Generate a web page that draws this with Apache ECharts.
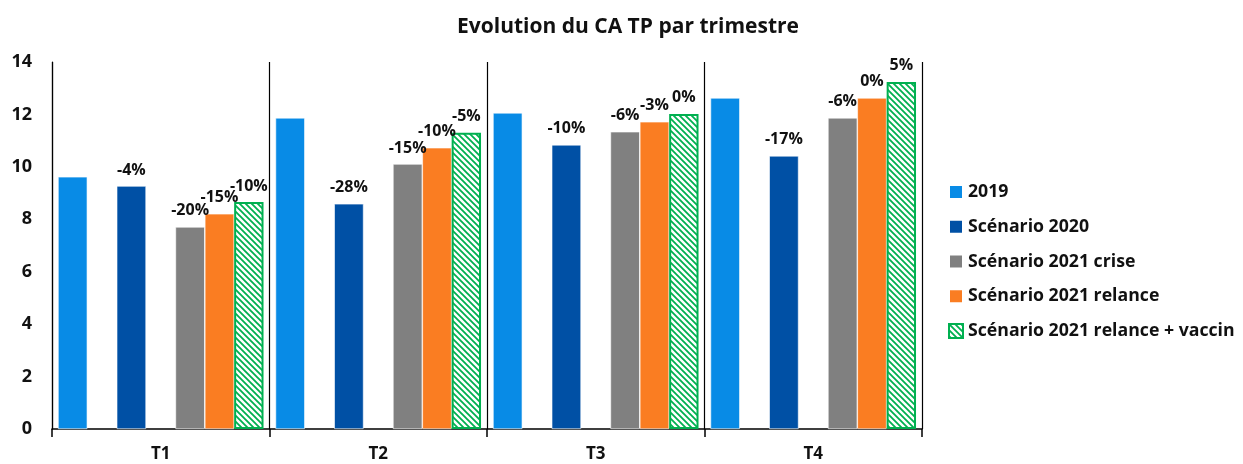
<!DOCTYPE html>
<html>
<head>
<meta charset="utf-8">
<script src="https://cdn.jsdelivr.net/npm/echarts@6/dist/echarts.min.js"></script>
<style>
  html, body { margin: 0; padding: 0; background: #fff; }
  #chart { width: 1243px; height: 464px; }
</style>
</head>
<body>
<div id="chart"></div>
<script>
// data
var trimestres = ['T1', 'T2', 'T3', 'T4'];
var ca2019 = [9.62, 11.87, 12.06, 12.63];
var sc2020 = [9.27, 8.59, 10.84, 10.42];
var sc2021Crise = [7.71, 10.11, 11.34, 11.87];
var sc2021Relance = [8.21, 10.73, 11.72, 12.63];
var sc2021Vaccin = [8.66, 11.30, 12.02, 13.24];
// empty slots kept between bars like in the source chart
var emptySlot = [null, null, null, null];

// labels shown above bars
var lbl2020 = ['-4%', '-28%', '-10%', '-17%'];
var lblCrise = ['-20%', '-15%', '-6%', '-6%'];
var lblRelance = ['-15%', '-10%', '-3%', '0%'];
var lblVaccin = ['-10%', '-5%', '0%', '5%'];

var FONT = 'Open Sans';

// hatch pattern for the vaccin scenario
function hatch() {
    var c = document.createElement('canvas');
    c.width = 6; c.height = 6;
    var ctx = c.getContext('2d');
    ctx.fillStyle = '#fff';
    ctx.fillRect(0, 0, 6, 6);
    ctx.strokeStyle = '#00b050';
    ctx.lineWidth = 1.8;
    ctx.beginPath();
    ctx.moveTo(-1, -1); ctx.lineTo(7, 7);
    ctx.moveTo(-4, 2); ctx.lineTo(4, 10);
    ctx.moveTo(2, -4); ctx.lineTo(10, 4);
    ctx.stroke();
    return c;
}

function labelFrom(arr) {
    return {
        show: true,
        position: 'top',
        distance: 8,
        fontFamily: FONT,
        fontWeight: 'bold',
        fontSize: 16,
        color: '#111',
        formatter: function (p) { return arr[p.dataIndex]; }
    };
}

function bar(name, data, color, lbl) {
    var s = {
        name: name,
        type: 'bar',
        data: data,
        barGap: 0,
        barCategoryGap: '5.5%',
        itemStyle: { color: color, borderColor: '#fff', borderWidth: 0.6 }
    };
    if (lbl) s.label = labelFrom(lbl);
    return s;
}

var vaccinSeries = bar('Scénario 2021 relance + vaccin', sc2021Vaccin, { image: hatch(), repeat: 'repeat' }, lblVaccin);
vaccinSeries.itemStyle.borderColor = '#00b050';
vaccinSeries.itemStyle.borderWidth = 2;

var chart = echarts.init(document.getElementById('chart'));
chart.setOption({
    animation: false,
    title: {
        text: 'Evolution du CA TP par trimestre',
        left: 623,
        textAlign: 'center',
        top: 12,
        textStyle: { fontFamily: FONT, fontWeight: 'bold', fontSize: 21, color: '#111' }
    },
    legend: {
        orient: 'vertical',
        left: 943,
        top: 178,
        itemWidth: 14,
        itemHeight: 14,
        itemGap: 16.75,
        icon: 'rect',
        data: ['2019', 'Scénario 2020', 'Scénario 2021 crise', 'Scénario 2021 relance', 'Scénario 2021 relance + vaccin'],
        textStyle: { fontFamily: FONT, fontWeight: 'bold', fontSize: 17.7, color: '#111', lineHeight: 18 }
    },
    grid: { left: 52, right: 321, top: 62, bottom: 35 },
    xAxis: {
        type: 'category',
        data: trimestres,
        axisLine: { lineStyle: { color: '#000', width: 1.5 } },
        axisTick: { show: true, length: 8, lineStyle: { color: '#000', width: 1.5 } },
        splitLine: { show: true, lineStyle: { color: '#000', width: 1.2 } },
        axisLabel: { fontFamily: FONT, fontWeight: 'bold', fontSize: 17, color: '#111', margin: 17 }
    },
    yAxis: {
        type: 'value',
        min: 0,
        max: 14,
        interval: 2,
        axisLine: { show: true, lineStyle: { color: '#000', width: 1.2 } },
        axisTick: { show: false },
        splitLine: { show: false },
        axisLabel: { fontFamily: FONT, fontWeight: 'bold', fontSize: 18, color: '#111', margin: 20 }
    },
    series: [
        bar('2019', ca2019, '#088be6', null),
        bar('', emptySlot, '#fff', null),
        bar('Scénario 2020', sc2020, '#0050a5', lbl2020),
        bar(' ', emptySlot, '#fff', null),
        bar('Scénario 2021 crise', sc2021Crise, '#808080', lblCrise),
        bar('Scénario 2021 relance', sc2021Relance, '#fa7d22', lblRelance),
        vaccinSeries
    ]
});
</script>
</body>
</html>
